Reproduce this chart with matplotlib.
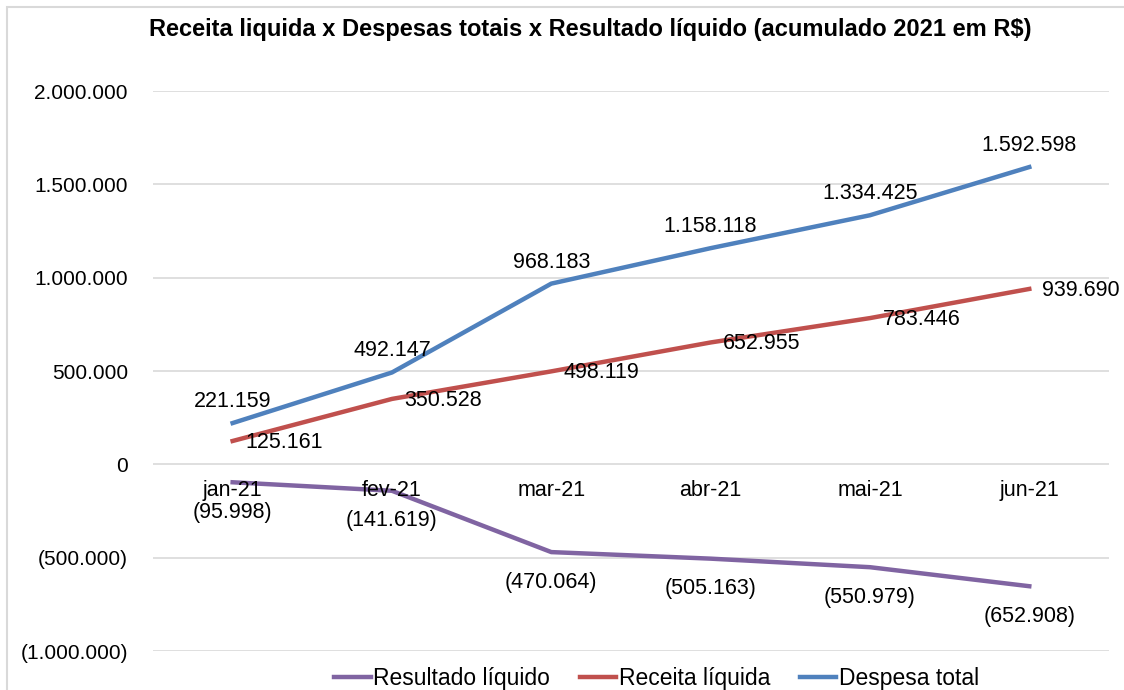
import matplotlib
matplotlib.use("Agg")
import matplotlib.pyplot as plt
from matplotlib.patches import Rectangle

# ---------------------------------------------------------------------------
#  data
# ---------------------------------------------------------------------------
months = ["jan-21", "fev-21", "mar-21", "abr-21", "mai-21", "jun-21"]
resultado = [-95998, -141619, -470064, -505163, -550979, -652908]
receita = [125161, 350528, 498119, 652955, 783446, 939690]
despesa = [221159, 492147, 968183, 1158118, 1334425, 1592598]
yticks = [-1000000, -500000, 0, 500000, 1000000, 1500000, 2000000]


def fmt(v):
    s = f"{abs(v):,.0f}".replace(",", ".")
    return f"({s})" if v < 0 else s


plt.rcParams["font.family"] = ["Liberation Sans", "DejaVu Sans"]

fig = plt.figure(figsize=(11.24, 6.9), dpi=100)
fig.patches.append(Rectangle((0.006, -0.01), 1.0, 1.0, transform=fig.transFigure,
                             fill=False, edgecolor="#D9D9D9", lw=1.5))
ax = fig.add_axes([0.1361, 0.0565, 0.8505, 0.8116])

x = list(range(len(months)))
ax.plot(x, resultado, color="#8064A2", lw=3.2, label="Resultado líquido", zorder=3)
ax.plot(x, receita, color="#C0504D", lw=3.2, label="Receita líquida", zorder=3)
ax.plot(x, despesa, color="#4F81BD", lw=3.2, label="Despesa total", zorder=3)

ax.set_xlim(-0.5, len(months) - 0.5)
ax.set_ylim(-1000000, 2000000)
ax.set_yticks(yticks)
ax.set_yticklabels([fmt(v) if v != 0 else "0" for v in yticks], fontsize=15)
ax.tick_params(axis="y", length=0, pad=18)
ax.set_xticks([])
ax.grid(axis="y", color="#D9D9D9", lw=1.2)
ax.set_axisbelow(True)
for s in ax.spines.values():
    s.set_visible(False)

# category labels next to the zero line
for xi, m in zip(x, months):
    ax.annotate(m, (xi, 0), xytext=(0, -11), textcoords="offset points",
                ha="center", va="top", fontsize=15.5)

# data labels
for xi, v in zip(x, despesa):
    ax.annotate(fmt(v), (xi, v), xytext=(0, 8), textcoords="offset points",
                ha="center", va="bottom", fontsize=15.5)
for xi, v in zip(x, receita):
    ax.annotate(fmt(v), (xi, v), xytext=(9, -1), textcoords="offset points",
                ha="left", va="center", fontsize=15.5)
for xi, v in zip(x, resultado):
    ax.annotate(fmt(v), (xi, v), xytext=(0, -14), textcoords="offset points",
                ha="center", va="top", fontsize=15.5)

fig.text(0.525, 0.957, "Receita liquida x Despesas totais x Resultado líquido (acumulado 2021 em R$)",
         ha="center", va="center", fontsize=17, fontweight="bold")

fig.legend(loc="center", bbox_to_anchor=(0.584, 0.017), ncol=3, frameon=False,
           fontsize=16.5, handlelength=1.6, handletextpad=0.1, columnspacing=1.3)

fig.savefig("out.png", dpi=100)
